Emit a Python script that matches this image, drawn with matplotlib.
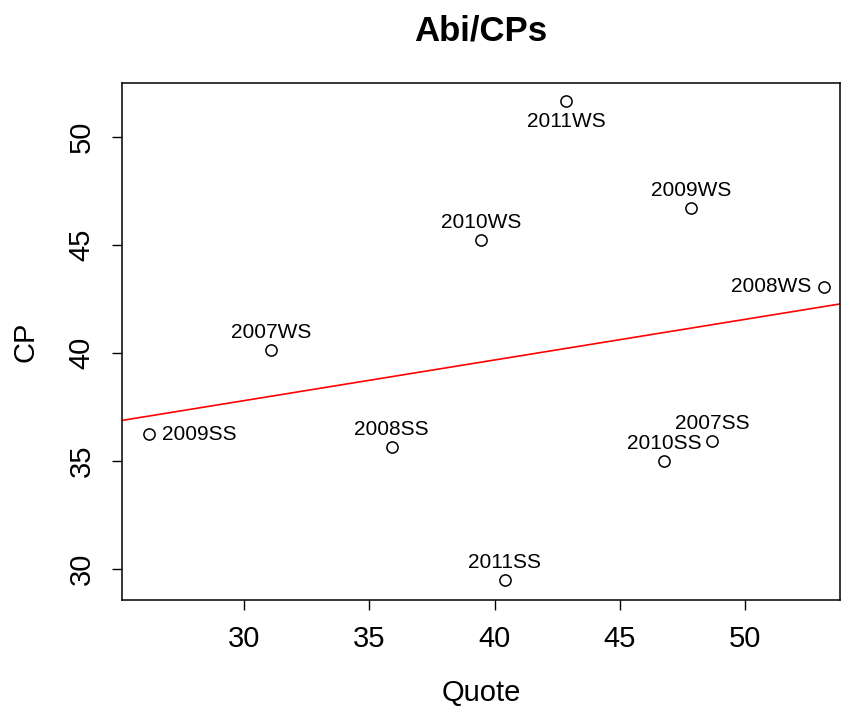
import matplotlib
matplotlib.use("Agg")
import matplotlib.pyplot as plt
import numpy as np

plt.rcParams["font.family"] = ["Liberation Sans", "DejaVu Sans"]

# ── data ─────────────────────────────────────────────────────────────────────
labels = ["2011WS", "2009WS", "2010WS", "2008WS", "2007WS",
          "2009SS", "2008SS", "2007SS", "2010SS", "2011SS"]
quote  = [42.87, 47.85, 39.48, 53.15, 31.08, 26.22, 35.90, 48.69, 46.77, 40.40]
cp     = [51.67, 46.71, 45.23, 43.06, 40.14, 36.25, 35.65, 35.93, 35.00, 29.49]
# label side (R text pos): 1 below, 2 left, 3 above, 4 right
label_pos = [1, 3, 3, 2, 3, 4, 3, 3, 3, 3]

x_ticks = [30, 35, 40, 45, 50]
y_ticks = [30, 35, 40, 45, 50]

fig = plt.figure(figsize=(8.41, 7.07), dpi=100)
ax = fig.add_axes([0.145, 0.1513, 0.8538, 0.7313])

ax.scatter(quote, cp, s=65, facecolors="white", edgecolors="black",
           linewidths=1.1, zorder=3)

offsets = {1: (0, -8, "center", "top"), 2: (-9, 0, "right", "center"),
           3: (0, 6, "center", "bottom"), 4: (9, 0, "left", "center")}
for lab, x, y, p in zip(labels, quote, cp, label_pos):
    dx, dy, ha, va = offsets[p]
    ax.annotate(lab, xy=(x, y), xytext=(dx, dy), textcoords="offset points",
                ha=ha, va=va, fontsize=15)

# least squares line, like abline(lm(CP ~ Quote))
slope, icpt = np.polyfit(quote, cp, 1)
ax.axline((0, icpt), slope=slope, color="red", linewidth=1.2)

ax.set_xlim(25.14, 53.78)
ax.set_ylim(28.57, 52.5)
ax.set_xticks(x_ticks)
ax.set_yticks(y_ticks)
ax.set_yticklabels([str(t) for t in y_ticks], rotation=90, va="center")
ax.tick_params(axis="both", direction="out", length=7, width=1, labelsize=21)
ax.tick_params(axis="x", pad=11)
ax.tick_params(axis="y", pad=12)
for s in ax.spines.values():
    s.set_linewidth(1.1)

ax.set_xlabel("Quote", fontsize=21, va="center")
ax.xaxis.set_label_coords(0.5, -0.18)
ax.set_ylabel("CP", fontsize=21, va="center")
ax.yaxis.set_label_coords(-0.134, 0.5)
fig.text(0.5 * (0.145 + 0.9988), 1 - 31 / 707, "Abi/CPs", fontsize=25,
         fontweight="bold", ha="center", va="center")

fig.savefig("out.png", dpi=100)
